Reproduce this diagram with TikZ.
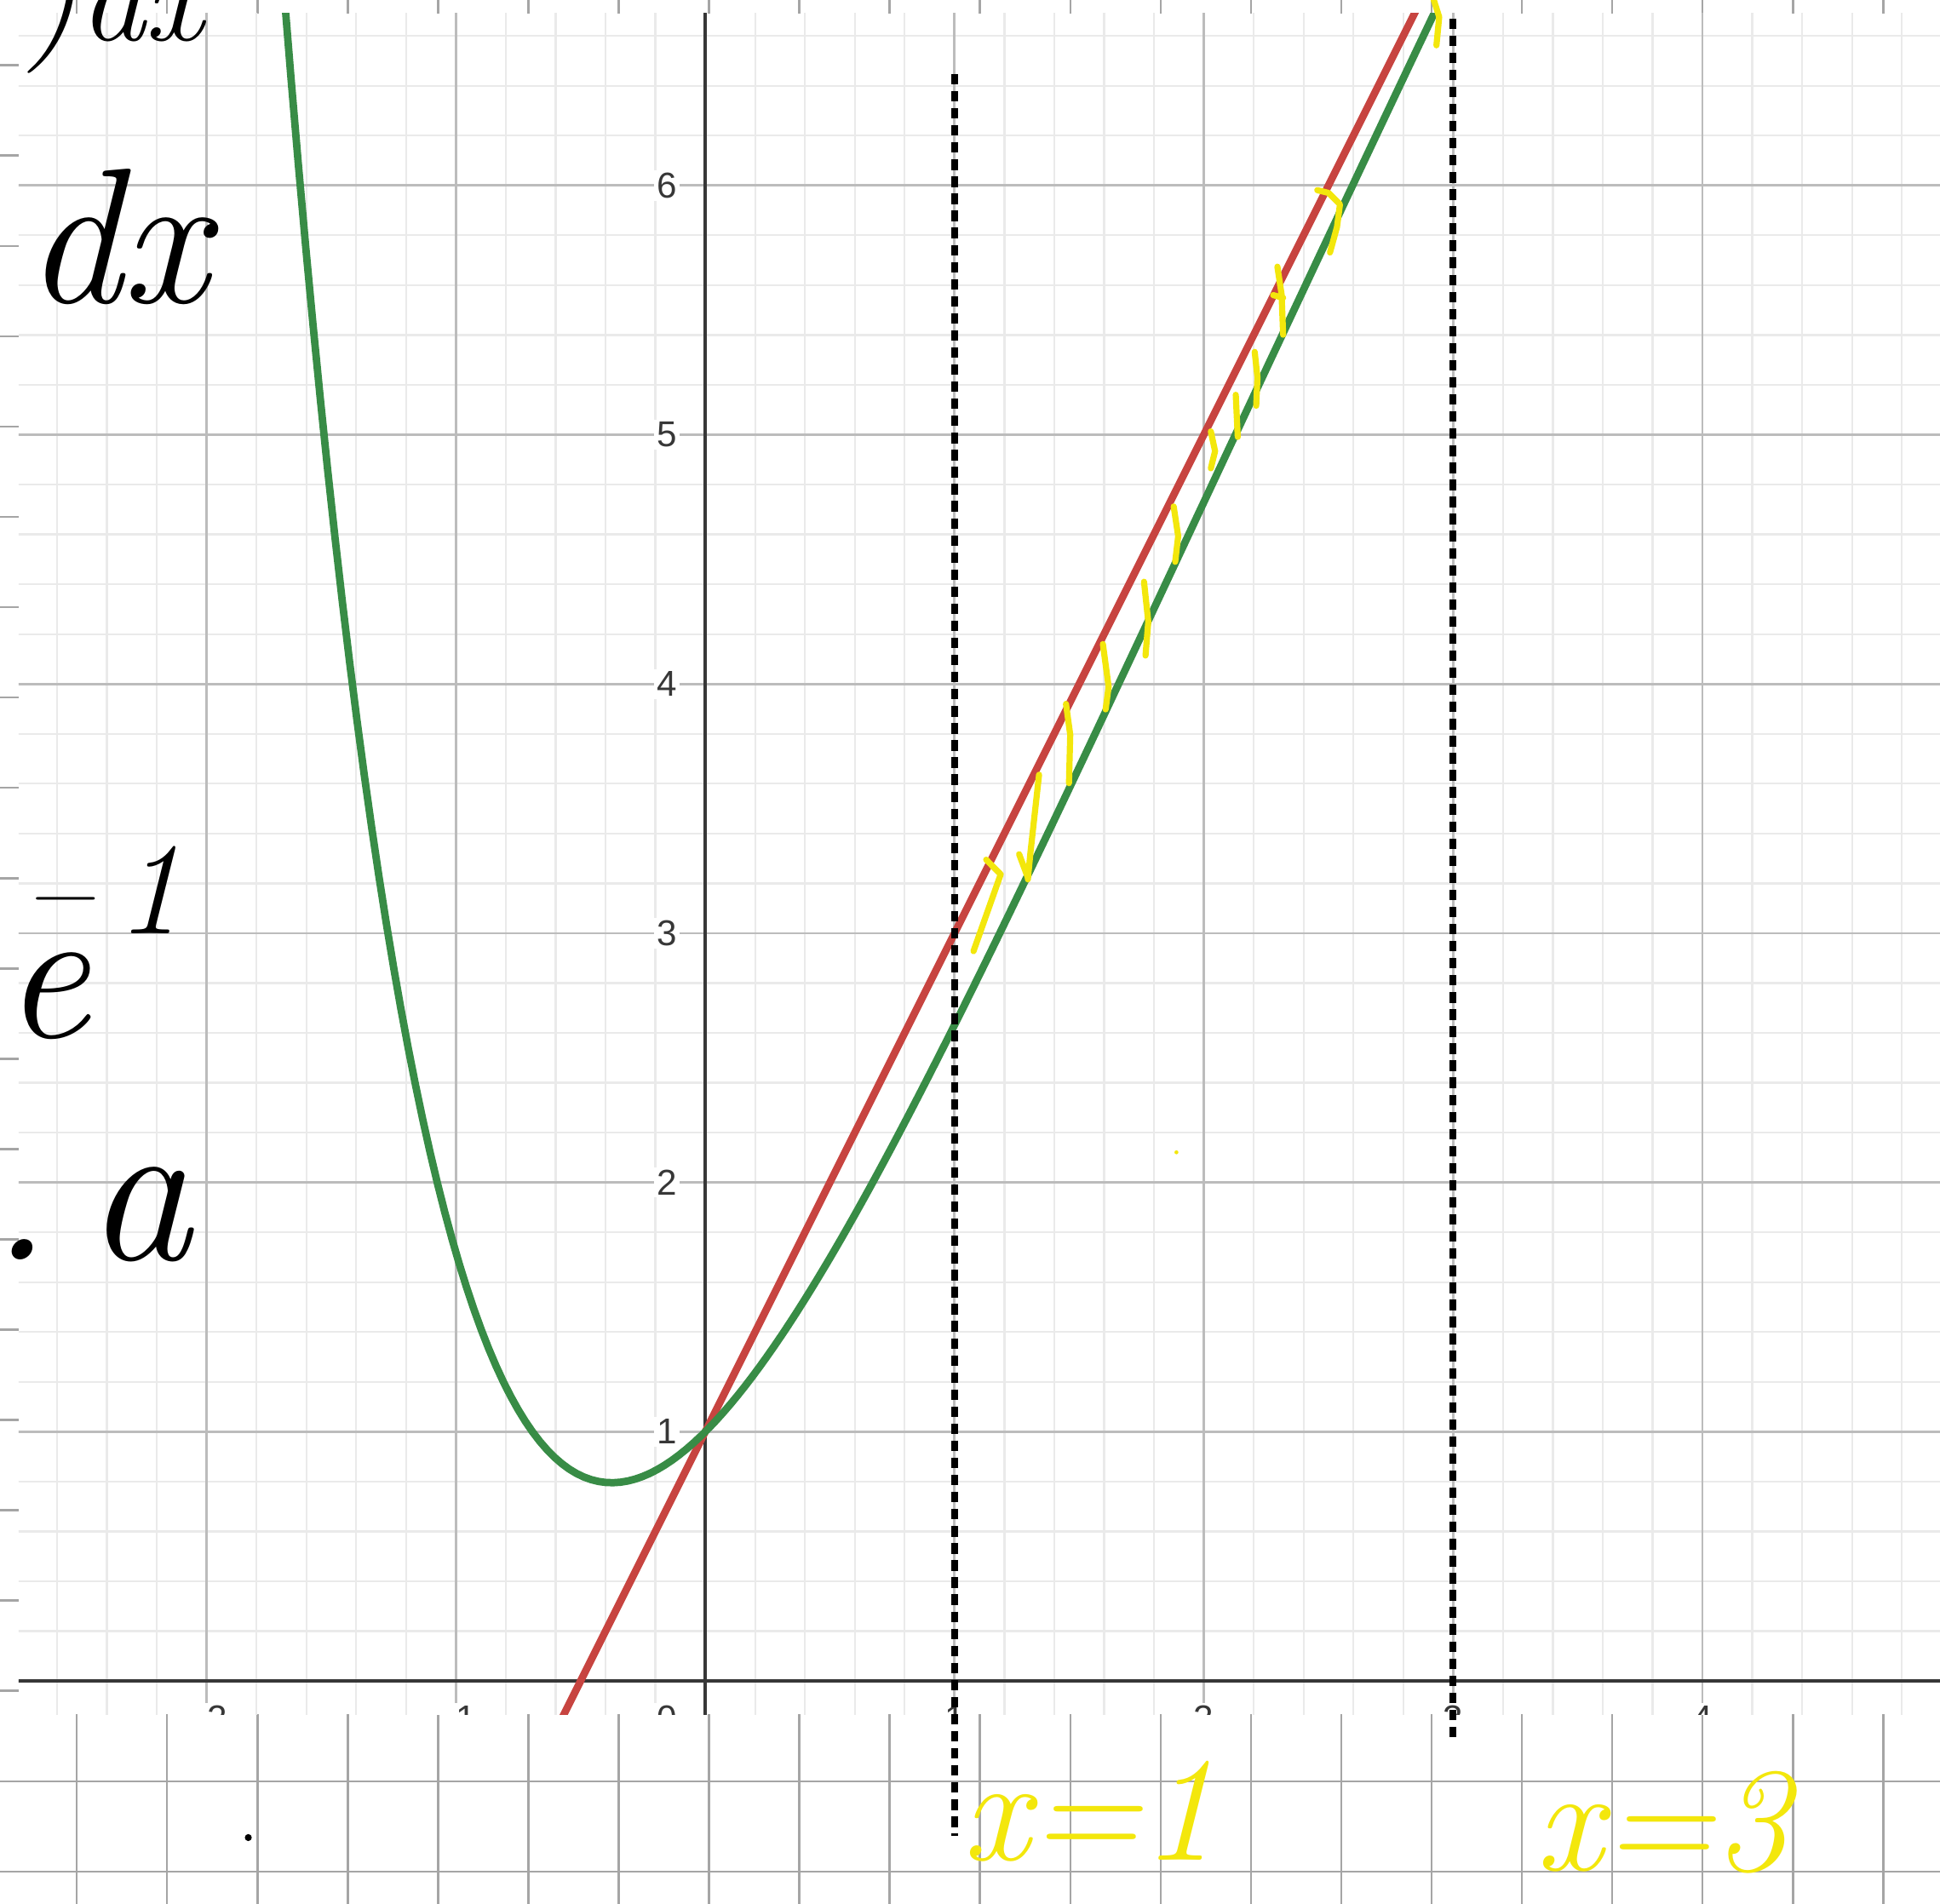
\documentclass[tikz,border=0pt]{standalone}
\usepackage{fontspec}
\usepackage{tikz}
\usetikzlibrary{calc}
\newfontfamily\cifras{Liberation Sans}
\definecolor{rojo}{RGB}{199,68,64}
\definecolor{verde}{RGB}{56,140,70}
\definecolor{amar}{RGB}{243,231,12}
\definecolor{finas}{RGB}{234,234,234}
\definecolor{gruesas}{RGB}{188,188,188}
\definecolor{hoja}{RGB}{165,165,165}
\definecolor{ejes}{RGB}{55,55,55}
\tikzset{
  fina/.style={finas, line width=0.45pt},
  gruesa/.style={gruesas, line width=0.55pt},
  eje/.style={ejes, line width=0.8pt},
  renglon/.style={hoja, line width=0.5pt},
  curva/.style={line width=1.7pt, line cap=round},
  puntos/.style={black, line width=1.6pt, dash pattern=on 2.4pt off 1.5pt},
  cifra/.style={font=\cifras\fontsize{8.2}{9}\selectfont, text=ejes, fill=white, inner sep=0.6pt},
  tinta/.style={font=\itshape\fontsize{44}{48}\selectfont, inner sep=0pt, text=black},
  tintaam/.style={tinta, font=\itshape\fontsize{34}{38}\selectfont, text=amar},
  raya/.style={amar, line width=1.4pt, line cap=round, line join=round},
}
\begin{document}
\begin{tikzpicture}[x=2cm, y=2cm]
  \useasboundingbox (-2.829,-0.893) rectangle (4.953,6.744);
  \foreach \k in {0,...,20}
    \draw[renglon] ({-2.521+0.3623*\k},-0.893) -- ({-2.521+0.3623*\k},6.744);
  \foreach \k in {-2,...,19}
    \draw[renglon] (-2.829,{-0.402+0.3623*\k}) -- (4.953,{-0.402+0.3623*\k});
  \fill[white] (-2.754,-0.133) rectangle (4.953,6.69);
  \begin{scope}
    \clip (-2.754,-0.133) rectangle (4.953,6.69);
    \draw[fina] (-3,-1) grid[step=0.2] (5,7);
    \draw[gruesa] (-3,-1) grid[step=1] (5,7);
    \draw[eje] (-3,0) -- (5,0);
    \draw[eje] (0,-1) -- (0,7);
    \foreach \n in {1,...,6}
      \node[cifra, anchor=east] (y\n) at (-0.1,\n) {\n};
    \foreach \n/\t in {-2/−2,-1/−1,1/1,2/2,3/3,4/4}
      \node[cifra, anchor=north] (x\n) at (\n,-0.085) {\t};
    \node[cifra, anchor=north east] (x0) at (-0.1,-0.085) {0};
    \draw[rojo, curva] plot[domain=-0.62:2.9, samples=2] (\x,{2*\x+1});
    \draw[verde, curva] plot[domain=-1.72:2.95, samples=160] (\x,{2*\x+1-\x*exp(-\x)});
  \end{scope}
  \coordinate (u1) at (1,6.447);
  \coordinate (u2) at (1,-0.62);
  \coordinate (t1) at (3,6.67);
  \coordinate (t2) at (3,-0.245);
  \draw[puntos] (u1) -- (u2);
  \draw[puntos] (t1) -- (t2);
  \draw[raya] (1.127,3.295) -- (1.185,3.236) -- (1.076,2.928);
  \draw[raya] (1.339,3.636) -- (1.305,3.329) -- (1.294,3.216);
  \draw[raya] (1.259,3.317) -- (1.293,3.226);
  \draw[raya] (1.447,3.920) -- (1.464,3.796) -- (1.459,3.602);
  \draw[raya] (1.595,4.160) -- (1.618,3.989) -- (1.606,3.898);
  \draw[raya] (1.760,4.410) -- (1.777,4.250) -- (1.766,4.114);
  \draw[raya] (1.879,4.712) -- (1.897,4.593) -- (1.885,4.490);
  \draw[raya] (2.028,5.013) -- (2.045,4.934) -- (2.028,4.865);
  \draw[raya] (2.128,5.160) -- (2.136,4.991);
  \draw[raya] (2.204,5.332) -- (2.215,5.230) -- (2.210,5.116);
  \draw[raya] (2.295,5.674) -- (2.312,5.562) -- (2.318,5.401);
  \draw[raya] (2.278,5.560) -- (2.318,5.549);
  \draw[raya] (2.455,5.981) -- (2.500,5.970) -- (2.546,5.924) -- (2.534,5.833) -- (2.506,5.731);
  \draw[raya] (2.922,6.745) -- (2.944,6.676) -- (2.933,6.562);
  \fill[amar] (1.890,2.121) circle (0.008);
  \fill (-1.833,-0.628) circle (0.014);
  \node[tinta, font=\itshape\fontsize{30}{34}\selectfont, anchor=base east] (h1) at (-2.01,6.58) {)dx};
  \node[tinta, anchor=base east] (h2) at (-1.99,5.53) {dx};
  \node[tinta, anchor=base west] (h3) at (-2.82,2.58)
    {e\hspace{-14.9pt}\raisebox{23.8pt}{\fontsize{30}{34}\selectfont –\hspace{0.2em}1}};
  \node[tinta, font=\itshape\fontsize{48}{52}\selectfont, anchor=base east] (h6) at (-2.055,1.69) {1.\,a};
  \node[tintaam, anchor=base west] (v1) at (1.03,-0.72) {x=1};
  \node[tintaam, anchor=base west] (v3) at (3.33,-0.76) {x=3};
\end{tikzpicture}
\end{document}
